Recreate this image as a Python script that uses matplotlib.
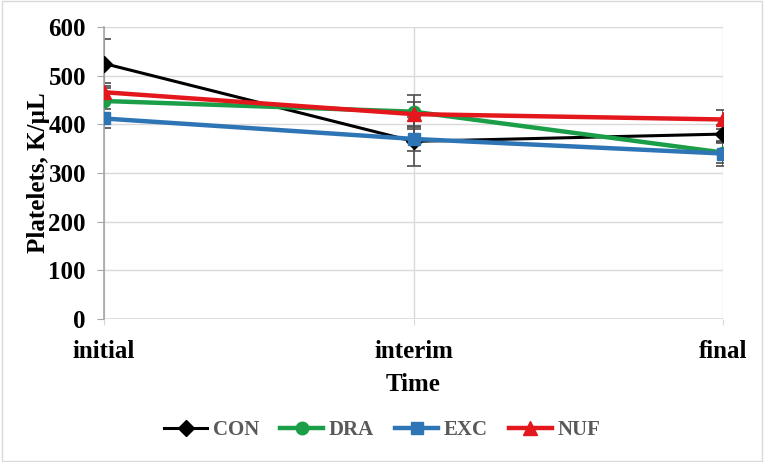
import numpy as np
import matplotlib.pyplot as plt
from matplotlib.patches import Rectangle

# data
times = ['initial', 'interim', 'final']
con = [525, 365, 380]
dra = [448, 426, 342]
exc = [412, 370, 340]
nuf = [466, 421, 410]
con_err = [50, 50, 18]
dra_err = [30, 35, 22]
exc_err = [20, 25, 25]
nuf_err = [18, 25, 20]

plt.rcParams['font.family'] = 'Liberation Serif'
plt.rcParams['font.weight'] = 'bold'

fig = plt.figure(figsize=(7.64, 4.62), dpi=100)
ax = fig.add_axes([104 / 764, 1 - 319 / 462, (723 - 104) / 764, (319 - 27) / 462])

x = np.arange(len(times))
series = [
    ('CON', con, con_err, '#000000', 'D', 8, 2.2),
    ('DRA', dra, dra_err, '#1a9e48', 'o', 9, 3.2),
    ('EXC', exc, exc_err, '#2e75b6', 's', 9, 3.2),
    ('NUF', nuf, nuf_err, '#e3171c', '^', 10, 3.2),
]
for name, vals, err, col, mk, ms, lw in series:
    ax.errorbar(x, vals, yerr=err, fmt='none', ecolor='#4d4d4d', elinewidth=1.2,
                capsize=5, capthick=1.2, zorder=2)
for name, vals, err, col, mk, ms, lw in series:
    ax.plot(x, vals, color=col, marker=mk, markersize=ms, linewidth=lw, label=name, zorder=3)

ax.set_xlim(0, 2)
ax.set_ylim(0, 600)
ax.set_yticks(range(0, 601, 100))
ax.set_xticks(x)
ax.set_xticklabels(times)
ax.grid(True, color='#d9d9d9', linewidth=1)
ax.set_axisbelow(True)
for s in ['top', 'right', 'bottom']:
    ax.spines[s].set_visible(False)
ax.spines['left'].set_color('#a6a6a6')
ax.spines['left'].set_linewidth(1.2)
ax.tick_params(axis='y', length=5, color='#a6a6a6', labelsize=18, pad=8)
ax.tick_params(axis='x', length=4, color='#d9d9d9', labelsize=18, pad=11)
ax.axhline(0, color='#d9d9d9', linewidth=1.2, zorder=1)
ax.set_xlabel('Time', fontsize=18, fontweight='bold', labelpad=7)
ax.set_ylabel('Platelets, K/µL', fontsize=18, fontweight='bold', labelpad=-1)

leg = fig.legend(loc='center', bbox_to_anchor=(0.5, 1 - 430 / 462), ncol=4, frameon=False,
                 fontsize=15, handlelength=2.1, columnspacing=1.0, handletextpad=0.25)
for t in leg.get_texts():
    t.set_color('#595959')
    t.set_fontweight('bold')

fig.patches.append(Rectangle((0.002, 0.002), 0.996, 0.996, transform=fig.transFigure,
                             fill=False, edgecolor='#d9d9d9', linewidth=1))

fig.savefig('out.png', dpi=100)
